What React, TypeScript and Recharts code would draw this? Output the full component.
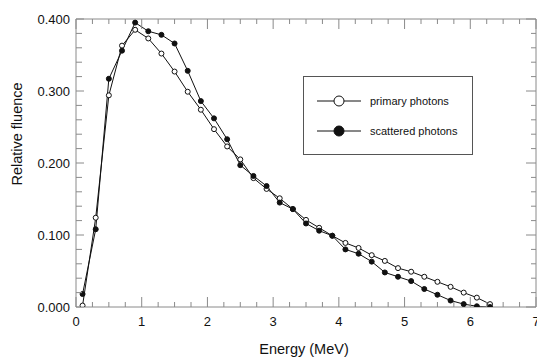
import { LineChart, Line, XAxis, YAxis, Legend, Label } from "recharts";

const energy = [
  0.1, 0.3, 0.5, 0.7, 0.9, 1.1, 1.3, 1.5, 1.7, 1.9, 2.1, 2.3, 2.5, 2.7, 2.9, 3.1,
  3.3, 3.5, 3.7, 3.9, 4.1, 4.3, 4.5, 4.7, 4.9, 5.1, 5.3, 5.5, 5.7, 5.9, 6.1, 6.3,
];

const primary = [
  0.002, 0.124, 0.294, 0.363, 0.385, 0.373, 0.352, 0.327, 0.299, 0.274, 0.247,
  0.223, 0.205, 0.179, 0.164, 0.151, 0.136, 0.121, 0.11, 0.099, 0.089, 0.082,
  0.072, 0.064, 0.054, 0.049, 0.042, 0.035, 0.028, 0.02, 0.013, 0.004,
];

const scattered = [
  0.018, 0.108, 0.317, 0.356, 0.395, 0.383, 0.378, 0.366, 0.328, 0.286, 0.262,
  0.233, 0.197, 0.182, 0.168, 0.145, 0.136, 0.116, 0.106, 0.099, 0.08, 0.074,
  0.063, 0.048, 0.042, 0.036, 0.025, 0.017, 0.009, 0.004, 0.001, 0.0,
];

const xMajor = [0, 1, 2, 3, 4, 5, 6, 7];
const yMajor = [0, 0.1, 0.2, 0.3, 0.4];

// minor ticks: quarters on x, 0.02 steps on y
const xTicks = xMajor.flatMap((v, i) =>
  i < xMajor.length - 1 ? [v, v + 0.25, v + 0.5, v + 0.75] : [v]
);
const yTicks = yMajor.flatMap((v, i) =>
  i < yMajor.length - 1 ? [0, 1, 2, 3, 4].map((k) => +(v + k * 0.02).toFixed(3)) : [v]
);

const data = energy.map((x, i) => ({ x, primary: primary[i], scattered: scattered[i] }));

const FONT = "'Liberation Sans', Arial, sans-serif";
const AXIS = "#8a8a8a";
const INK = "#111";

const isMajorX = (v: number) => Math.abs(v - Math.round(v)) < 1e-6;
const isMajorY = (v: number) => Math.abs(v * 10 - Math.round(v * 10)) < 1e-6;

const BottomTick = (props: any) => {
  const { x, y, payload } = props;
  const major = isMajorX(payload.value);
  return (
    <g>
      <line x1={x} x2={x} y1={y} y2={y - (major ? 10 : 5)} stroke={AXIS} />
      {major && (
        <text x={x} y={y + 19} textAnchor="middle" fontSize={13} fontFamily={FONT} fill={INK}>
          {payload.value}
        </text>
      )}
    </g>
  );
};

const TopTick = (props: any) => {
  const { x, y, payload } = props;
  const major = isMajorX(payload.value);
  return <line x1={x} x2={x} y1={y} y2={y + (major ? 10 : 5)} stroke={AXIS} />;
};

const LeftTick = (props: any) => {
  const { x, y, payload } = props;
  const major = isMajorY(payload.value);
  return (
    <g>
      <line x1={x} x2={x + (major ? 8 : 6)} y1={y} y2={y} stroke={AXIS} />
      {major && (
        <text x={x - 6} y={y + 4.5} textAnchor="end" fontSize={13} fontFamily={FONT} fill={INK}>
          {payload.value.toFixed(3)}
        </text>
      )}
    </g>
  );
};

const RightTick = (props: any) => {
  const { x, y, payload } = props;
  const major = isMajorY(payload.value);
  return <line x1={x} x2={x - (major ? 10 : 5)} y1={y} y2={y} stroke={AXIS} />;
};

const renderLegend = () => (
  <div
    style={{
      width: 170,
      height: 79,
      boxSizing: "border-box",
      border: "1px solid #555",
      background: "#fff",
      fontFamily: FONT,
      fontSize: 11,
      color: INK,
      position: "relative",
    }}
  >
    {[
      { label: "primary photons", fill: "#fff" },
      { label: "scattered photons", fill: INK },
    ].map((item, i) => (
      <div
        key={item.label}
        style={{ position: "absolute", left: 12, top: 14 + i * 30, height: 20, display: "flex", alignItems: "center" }}
      >
        <svg width={46} height={20}>
          <line x1={1} x2={45} y1={10} y2={10} stroke={INK} strokeWidth={1} />
          <circle cx={23} cy={10} r={5} fill={item.fill} stroke={INK} strokeWidth={1} />
        </svg>
        <span style={{ marginLeft: 8 }}>{item.label}</span>
      </div>
    ))}
  </div>
);

export default function App() {
  return (
    <div style={{ position: "absolute", left: 0, top: 0, background: "#fff" }}>
      <LineChart width={537} height={358} data={data} margin={{ top: 18, right: 0, bottom: 0, left: 0 }}>
        <XAxis
          dataKey="x"
          type="number"
          domain={[0, 7]}
          ticks={xTicks}
          interval={0}
          tickSize={0}
          tickMargin={0}
          tickLine={false}
          tick={<BottomTick />}
          axisLine={{ stroke: AXIS }}
          height={51}
          allowDataOverflow
        >
          <Label
            content={() => (
              <text x={304} y={354} textAnchor="middle" fontSize={14.5} fontFamily={FONT} fill={INK}>
                Energy (MeV)
              </text>
            )}
          />
        </XAxis>
        <XAxis
          xAxisId="top"
          orientation="top"
          dataKey="x"
          type="number"
          domain={[0, 7]}
          ticks={xTicks}
          interval={0}
          tickSize={0}
          tickMargin={0}
          tickLine={false}
          tick={<TopTick />}
          axisLine={{ stroke: AXIS }}
          height={1}
          allowDataOverflow
        />
        <YAxis
          type="number"
          domain={[0, 0.4]}
          ticks={yTicks}
          interval={0}
          tickSize={0}
          tickMargin={0}
          tickLine={false}
          tick={<LeftTick />}
          axisLine={{ stroke: AXIS }}
          width={76}
          allowDataOverflow
        >
          <Label
            content={() => (
              <text
                x={22}
                y={134}
                transform="rotate(-90, 22, 134)"
                textAnchor="middle"
                fontSize={14.5}
                fontFamily={FONT}
                fill={INK}
              >
                Relative fluence
              </text>
            )}
          />
        </YAxis>
        <YAxis
          yAxisId="right"
          orientation="right"
          type="number"
          domain={[0, 0.4]}
          ticks={yTicks}
          interval={0}
          tickSize={0}
          tickMargin={0}
          tickLine={false}
          tick={<RightTick />}
          axisLine={{ stroke: AXIS }}
          width={1}
          allowDataOverflow
        />
        <Legend
          layout="vertical"
          align="center"
          verticalAlign="middle"
          content={renderLegend}
          wrapperStyle={{ left: 303, top: 76, width: 170, height: 79 }}
        />
        <Line
          dataKey="primary"
          type="linear"
          stroke={INK}
          strokeWidth={1}
          dot={{ r: 2.5, fill: "#fff", stroke: INK, strokeWidth: 1 }}
          isAnimationActive={false}
        />
        <Line
          dataKey="scattered"
          type="linear"
          stroke={INK}
          strokeWidth={1}
          dot={{ r: 2.5, fill: INK, stroke: INK, strokeWidth: 1 }}
          isAnimationActive={false}
        />
      </LineChart>
    </div>
  );
}
